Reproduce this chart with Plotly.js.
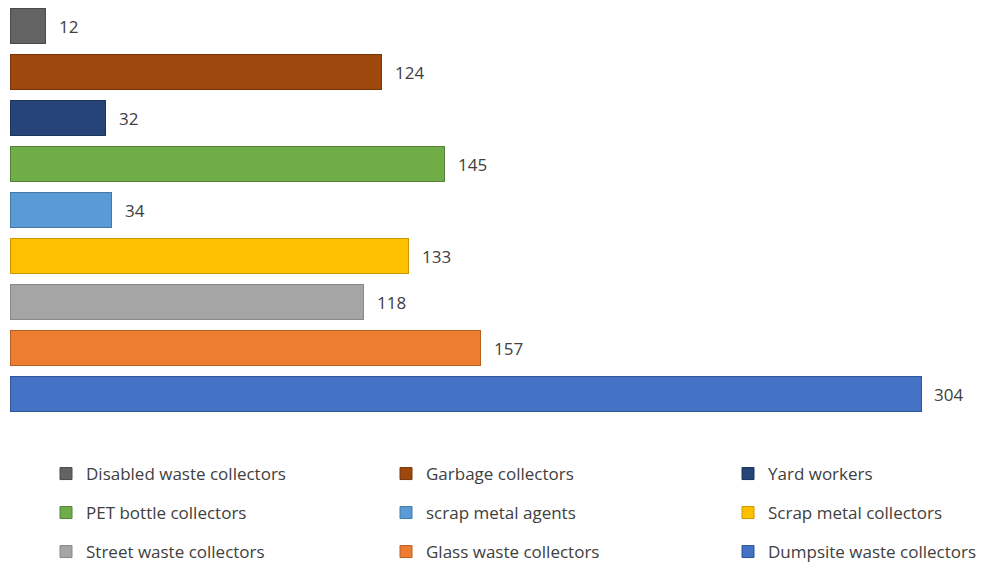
<!DOCTYPE html>
<html><head><meta charset="utf-8">
<script src="https://cdn.plot.ly/plotly-3.0.1.min.js"></script>
<style>html,body{margin:0;padding:0;background:#fff;}#chart{width:983px;height:569px;}</style>
</head><body><div id="chart"></div>
<script>
var categories = ["Disabled waste collectors","Garbage collectors","Yard workers","PET bottle collectors","scrap metal agents","Scrap metal collectors","Street waste collectors","Glass waste collectors","Dumpsite waste collectors"];
var values = [12,124,32,145,34,133,118,157,304];
var fillColors = ["#636363","#9E480E","#264478","#70AD47","#5B9BD5","#FFC000","#A5A5A5","#ED7D31","#4472C4"];
var lineColors = ["#4a4a4a","#7a360a","#1c335a","#53823a","#4478a8","#c99700","#888888","#b85f22","#2f5597"];

var font = "Open Sans, sans-serif";
var W = 983, H = 569;
var colLeft = [46, 386, 728];
var rowY = [474, 513, 552];
var legendIds = categories.map(function(c,i){ return i === 0 ? "legend" : "legend" + (i+1); });

var traces = categories.map(function(c,i){
  return {type:"bar", orientation:"h", name:c, x:[values[i]], y:[c], width:0.78,
    marker:{color:fillColors[i], line:{color:lineColors[i], width:1}},
    legend: legendIds[i], hoverinfo:"x+y"};
});
var annotations = categories.map(function(c,i){
  return {x:values[i], y:c, xref:"x", yref:"y", text:String(values[i]), showarrow:false,
    xanchor:"left", xshift:11, font:{family:font, size:17, color:"#404040"}};
});
var layout = {
  width:W, height:H, margin:{l:10, r:10, t:3, b:152, autoexpand:false},
  paper_bgcolor:"#fff", plot_bgcolor:"#fff", barmode:"stack", showlegend:true,
  font:{family:font, size:17, color:"#404040"},
  xaxis:{range:[0,321.3], visible:false, fixedrange:true},
  yaxis:{type:"category", categoryorder:"array", categoryarray:categories, autorange:"reversed", visible:false},
  annotations:annotations
};
legendIds.forEach(function(id,i){
  layout[id] = {orientation:"v", xref:"container", yref:"container",
    x: colLeft[i % 3] / W, xanchor:"left", y: 1 - rowY[Math.floor(i/3)] / H, yanchor:"middle",
    font:{family:font, size:17, color:"#404040"}, bgcolor:"rgba(0,0,0,0)", borderwidth:0};
});
Plotly.newPlot("chart", traces, layout, {displayModeBar:false, staticPlot:true});
</script></body></html>
